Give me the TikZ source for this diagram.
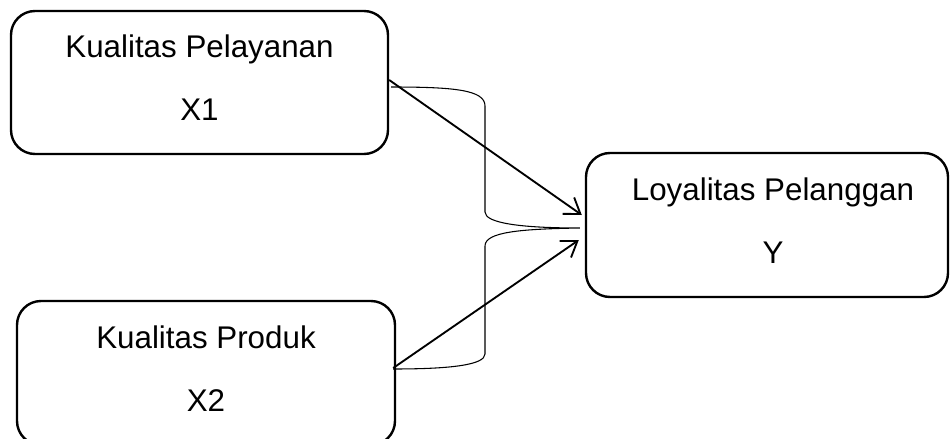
\documentclass[tikz,border=0pt]{standalone}
\usepackage{fontspec}
\setmainfont{Liberation Sans}
\usetikzlibrary{arrows.meta,calc}
\newcommand{\lowpad}{\rule[-7pt]{0pt}{7pt}}
\begin{document}
\begin{tikzpicture}[x=0.75pt,y=-0.75pt,
  box/.style={draw,line width=1.8pt,rounded corners=18pt,align=center,
    font=\fontsize{23.5}{47}\selectfont,inner sep=0pt},
  arr/.style={line width=1.4pt,-{Straight Barb[length=11pt,width=15pt,line width=1.4pt]}},
  brace/.style={line width=0.8pt}]
\useasboundingbox (0,0) rectangle (950,439);
\node[box,minimum width=377pt*0.75,minimum height=143pt*0.75] (b1) at (199.5,82.5) {Kualitas Pelayanan\\X1\lowpad};
\node[box,minimum width=362pt*0.75,minimum height=144pt*0.75] (bY) at (767,225) {\hspace*{9pt}Loyalitas Pelanggan\\\hspace*{9pt}Y\lowpad};
\node[box,minimum width=378pt*0.75,minimum height=144pt*0.75] (b2) at (206,373) {Kualitas Produk\\X2\lowpad};
\coordinate (c1) at ($(b1.east)+(2,4.5)$);
\coordinate (c2) at ($(b2.east)+(-3,-4)$);
\coordinate (m) at ($(bY.west)+(-5,3)$);
\draw[brace] (c1) .. controls (455,87) and (485,90) .. (485,106) -- (485,212)
  .. controls (485,223) and (520,228) .. (m)
  .. controls (520,229) and (485,232) .. (485,246) -- (485,354)
  .. controls (485,365) and (450,369) .. (c2);
\draw[arr] ($(b1.east)+(0,-2.5)$) -- ($(bY.west)+(-3,-10)$);
\draw[arr] ($(b2.east)+(-3,-5)$) -- ($(bY.west)+(-6,15)$);
\end{tikzpicture}
\end{document}
